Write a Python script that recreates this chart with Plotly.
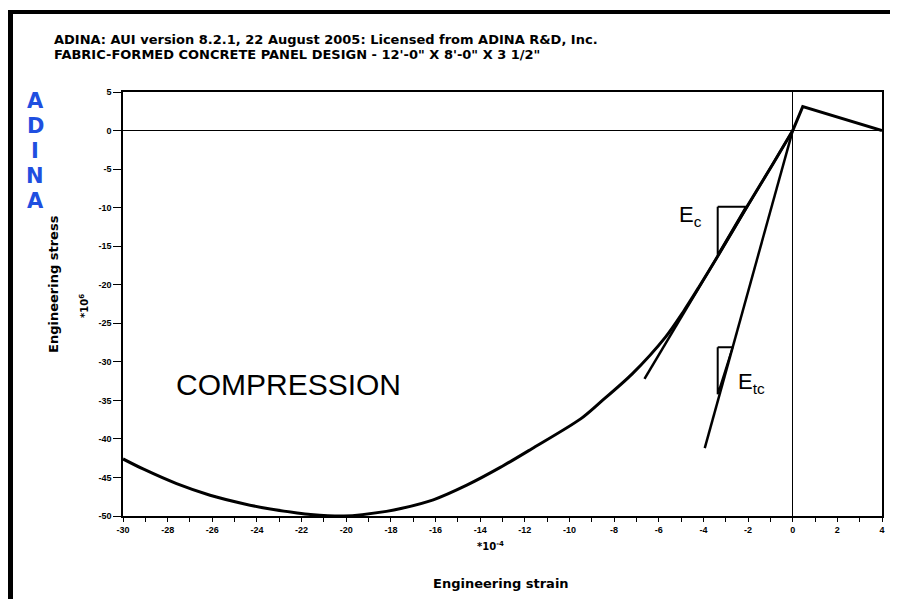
import plotly.graph_objects as go

# ---- data (strain in 1e-4, stress scaled) ----
curve_strain = [-30.0, -29.1, -27.6, -26.1, -24.6, -23.6, -22.2, -21.6, -20.1, -18.2, -17.5,
                -16.1, -14.6, -13.1, -11.7, -9.5, -8.6, -7.2, -5.7, -4.9, -4.2, -3.4, -2.1, -0.9, 0.0]
curve_stress = [-42.6, -43.9, -45.8, -47.3, -48.4, -49.0, -49.6, -49.8, -50.0, -49.4, -49.0,
                -47.9, -46.0, -43.7, -41.3, -37.4, -35.2, -31.6, -26.8, -23.5, -20.3, -16.5, -10.1, -4.4, 0.0]
tension_strain = [0.0, 0.45, 4.0]
tension_stress = [0.0, 3.1, 0.0]
ec_strain = [0.0, -6.64]
ec_stress = [0.0, -32.2]
etc_strain = [0.0, -3.94]
etc_stress = [0.0, -41.2]
ec_tri_strain = [-3.36, -2.10, -3.36, -3.36]
ec_tri_stress = [-9.9, -9.9, -16.1, -9.9]
etc_tri_strain = [-3.36, -2.69, -3.36, -3.36]
etc_tri_stress = [-28.1, -28.1, -34.2, -28.1]
x_ticks = list(range(-30, 5, 2))
y_ticks = list(range(-50, 6, 5))

OFF = 8  # page body margin
W, H = 898 - OFF, 599 - OFF
L, T = 123 - OFF, 92 - OFF
R = W - (882 - OFF)
B = H - (516 - OFF)
pw, ph = W - L - R, H - T - B
def px(x): return (x - OFF - L) / pw
def py(y): return (H - B - (y - OFF)) / ph

fig = go.Figure()
fig.add_trace(go.Scatter(x=curve_strain, y=curve_stress, mode="lines",
                         line=dict(color="black", width=3, shape="spline", smoothing=0.8),
                         hoverinfo="skip"))
fig.add_trace(go.Scatter(x=tension_strain, y=tension_stress, mode="lines",
                         line=dict(color="black", width=3), hoverinfo="skip"))
for xs, ys, w in [(ec_strain, ec_stress, 2.5), (etc_strain, etc_stress, 2.5),
                  (ec_tri_strain, ec_tri_stress, 2), (etc_tri_strain, etc_tri_stress, 2)]:
    fig.add_trace(go.Scatter(x=xs, y=ys, mode="lines",
                             line=dict(color="black", width=w), hoverinfo="skip"))

tickfont = dict(family="Liberation Sans", size=9, color="black", weight="bold")
fig.update_xaxes(range=[-30, 4], tickvals=x_ticks, ticktext=[str(v) for v in x_ticks],
                 ticks="outside", ticklen=4, tickwidth=1, tickcolor="black",
                 minor=dict(dtick=1, ticks="outside", ticklen=4, tickcolor="black"),
                 showline=True, linecolor="black", linewidth=1.5, mirror=True,
                 showgrid=False, zeroline=True, zerolinecolor="black", zerolinewidth=1,
                 tickfont=tickfont, fixedrange=True)
fig.update_yaxes(range=[-50, 5], tickvals=y_ticks, ticktext=[str(v) for v in y_ticks],
                 ticks="outside", ticklen=8, tickwidth=1, tickcolor="black",
                 showline=True, linecolor="black", linewidth=1.5, mirror=True,
                 showgrid=False, zeroline=True, zerolinecolor="black", zerolinewidth=1,
                 tickfont=tickfont, fixedrange=True)

bold = dict(family="DejaVu Sans", color="black", weight="bold")
anns = [
    dict(x=px(52), y=py(40), text="ADINA: AUI version 8.2.1, 22 August 2005: Licensed from ADINA R&D, Inc.",
         xanchor="left", yanchor="middle", font=dict(size=13, **bold)),
    dict(x=px(52), y=py(54), text="FABRIC-FORMED CONCRETE PANEL DESIGN - 12'-0\" X 8'-0\" X 3 1/2\"",
         xanchor="left", yanchor="middle", font=dict(size=13, **bold)),
    dict(x=px(53), y=py(284), text="Engineering stress", textangle=-90,
         xanchor="center", yanchor="middle", font=dict(size=13, **bold)),
    dict(x=px(84), y=py(306), text="*10<sup>6</sup>", textangle=-90,
         xanchor="center", yanchor="middle", font=dict(size=10, **bold)),
    dict(x=px(501), y=py(583), text="Engineering strain",
         xanchor="center", yanchor="middle", font=dict(size=13, **bold)),
    dict(x=px(490), y=py(546), text="*10<sup>-4</sup>",
         xanchor="center", yanchor="middle", font=dict(size=10, **bold)),
    dict(x=px(174), y=py(384), text="COMPRESSION", xanchor="left", yanchor="middle",
         font=dict(family="Liberation Sans", size=30, color="black")),
    dict(x=px(677), y=py(216), text="E<sub>c</sub>", xanchor="left", yanchor="middle",
         font=dict(family="Liberation Sans", size=22, color="black")),
    dict(x=px(736), y=py(383), text="E<sub>tc</sub>", xanchor="left", yanchor="middle",
         font=dict(family="Liberation Sans", size=22, color="black")),
]
for cy, ch in zip([101, 126, 151, 176, 201], "ADINA"):
    anns.append(dict(x=px(35), y=py(cy), text=ch, xanchor="center", yanchor="middle",
                     font=dict(family="DejaVu Sans", size=21, color="#1f4fe0", weight="bold")))
for a in anns:
    a.update(xref="paper", yref="paper", showarrow=False)
fig.update_layout(annotations=anns)

shapes = [
    dict(type="rect", xref="paper", yref="paper", x0=px(8), x1=px(898), y0=py(10), y1=py(14),
         fillcolor="black", line=dict(width=0)),
    dict(type="rect", xref="paper", yref="paper", x0=px(8), x1=px(13), y0=py(10), y1=py(599),
         fillcolor="black", line=dict(width=0)),
]
fig.update_layout(shapes=shapes)

fig.update_layout(width=W, height=H, margin=dict(l=L, r=R, t=T, b=B),
                  paper_bgcolor="white", plot_bgcolor="white", showlegend=False)
fig.write_html("out.html")
